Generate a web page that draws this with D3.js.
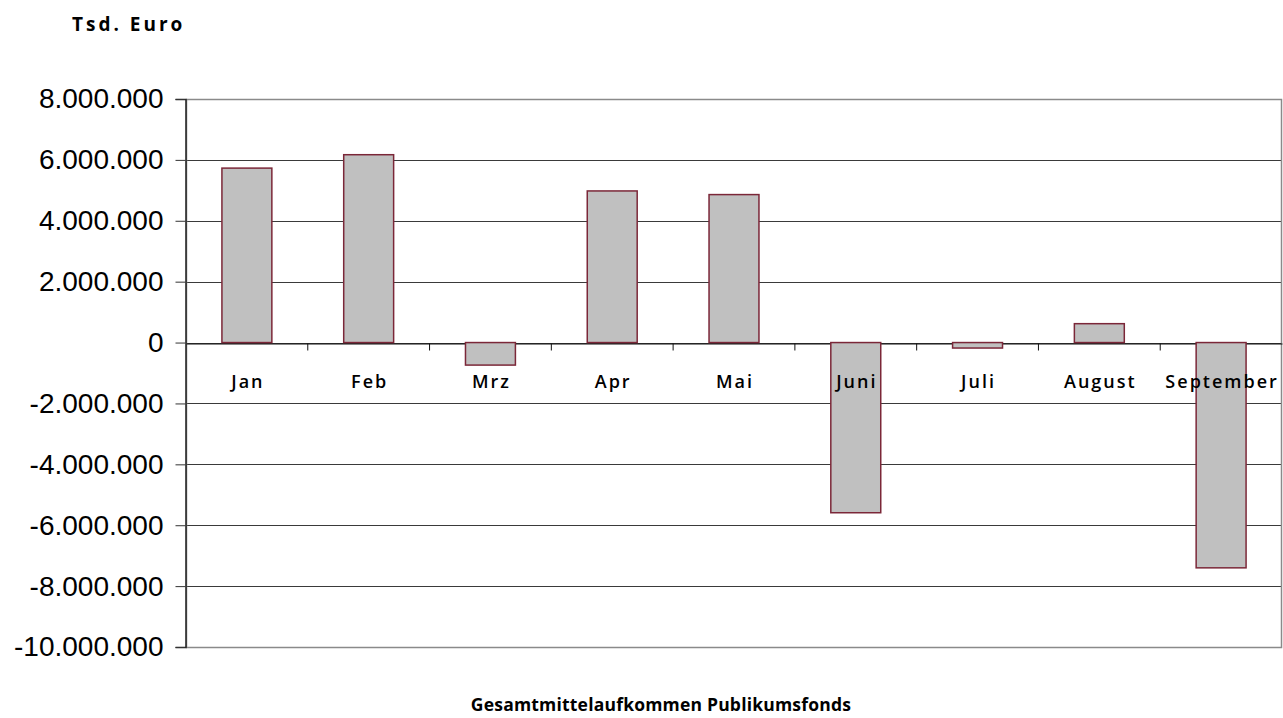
<!DOCTYPE html>
<html>
<head>
<meta charset="utf-8">
<script src="https://cdn.jsdelivr.net/npm/d3@7"></script>
<style>
  body { margin: 0; background: #fff; }
  text { fill: #000; }
  .cat { font: 600 18px "Open Sans", sans-serif; letter-spacing: 2px; }
  .ytick { font: 28px "Liberation Sans", Arial, sans-serif; }
  .ttl { font: bold 19px "Open Sans", sans-serif; letter-spacing: 3px; }
  .ttl2 { font: bold 17.5px "Open Sans", sans-serif; letter-spacing: 0.2px; }
</style>
</head>
<body>
<div id="chart"></div>
<script>
var width = 1283,
  height = 718;

// Mittelaufkommen pro Monat, Tsd. Euro
var months = ["Jan", "Feb", "Mrz", "Apr", "Mai", "Juni", "Juli", "August", "September"];
var values = [5730000, 6170000, -740000, 4980000, 4860000, -5590000, -180000, 620000, -7400000];
var yTicks = [8000000, 6000000, 4000000, 2000000, 0, -2000000, -4000000, -6000000, -8000000, -10000000];

var plot = { left: 186, right: 1282, top: 99, bottom: 647 };

var svg = d3.select("#chart").append("svg")
  .attr("width", width)
  .attr("height", height);

var x = d3.scaleBand()
  .domain(months)
  .range([plot.left, plot.right]);

var y = d3.scaleLinear()
  .domain([-10000000, 8000000])
  .range([plot.bottom, plot.top]);

// German number format: 8.000.000
var fmt = function(v) {
  return d3.format(",")(v).replace(/,/g, ".").replace("−", "-");
};

//Gridlines
svg.append("g")
  .selectAll("line")
  .data(yTicks.filter(function(d) { return d !== 8000000 && d !== -10000000; }))
  .enter().append("line")
  .attr("x1", plot.left)
  .attr("x2", plot.right)
  .attr("y1", function(d) { return Math.round(y(d)) + 0.5; })
  .attr("y2", function(d) { return Math.round(y(d)) + 0.5; })
  .attr("stroke", "#3a3a3a")
  .attr("stroke-width", 1);

//Plot frame
svg.append("rect")
  .attr("x", plot.left + 0.5)
  .attr("y", plot.top + 0.5)
  .attr("width", plot.right - plot.left - 1)
  .attr("height", plot.bottom - plot.top)
  .attr("fill", "none")
  .attr("stroke", "#8a8a8a")
  .attr("stroke-width", 1.5);

//X axis on the zero line
var xAxis = d3.axisBottom(x)
  .tickSize(0)
  .tickPadding(0)
  .tickFormat("");

var gx = svg.append("g")
  .attr("transform", "translate(0," + (Math.round(y(0)) + 0.5) + ")")
  .call(xAxis);
gx.select(".domain").attr("stroke", "#111").attr("stroke-width", 1);

gx.selectAll("line.sep")
  .data(months.slice(1))
  .enter().append("line")
  .attr("class", "sep")
  .attr("x1", function(d) { return x(d); })
  .attr("x2", function(d) { return x(d); })
  .attr("y1", 0)
  .attr("y2", 7)
  .attr("stroke", "#111");

//Bars
var barW = x.bandwidth() * 0.41;
svg.append("g")
  .selectAll("rect")
  .data(values)
  .enter().append("rect")
  .attr("x", function(d, i) { return x(months[i]) + (x.bandwidth() - barW) / 2; })
  .attr("y", function(d) { return y(Math.max(0, d)); })
  .attr("width", barW)
  .attr("height", function(d) { return Math.abs(y(d) - y(0)); })
  .attr("fill", "#c0c0c0")
  .attr("stroke", "#7b2738")
  .attr("stroke-width", 1.5);

//Y axis
var yAxis = d3.axisLeft(y)
  .tickValues(yTicks)
  .tickSize(10)
  .tickPadding(12)
  .tickFormat(fmt);

var gy = svg.append("g")
  .attr("transform", "translate(" + (plot.left - 0.5) + ",0)")
  .call(yAxis);
gy.select(".domain").attr("stroke", "#222").attr("stroke-width", 1.5);
gy.selectAll(".tick line").attr("stroke", "#333");
gy.selectAll(".tick text").attr("class", "ytick").attr("font-family", null).attr("font-size", null);

//Category labels
svg.append("g")
  .selectAll("text")
  .data(months)
  .enter().append("text")
  .attr("class", "cat")
  .attr("x", function(d) { return x(d) + x.bandwidth() / 2 + 1; })
  .attr("y", y(0) + 45)
  .attr("text-anchor", "middle")
  .text(function(d) { return d; });

//Titles
svg.append("text")
  .attr("class", "ttl")
  .attr("x", 72)
  .attr("y", 31)
  .text("Tsd. Euro");

svg.append("text")
  .attr("class", "ttl2")
  .attr("x", 661)
  .attr("y", 711)
  .attr("text-anchor", "middle")
  .text("Gesamtmittelaufkommen Publikumsfonds");
</script>
</body>
</html>
